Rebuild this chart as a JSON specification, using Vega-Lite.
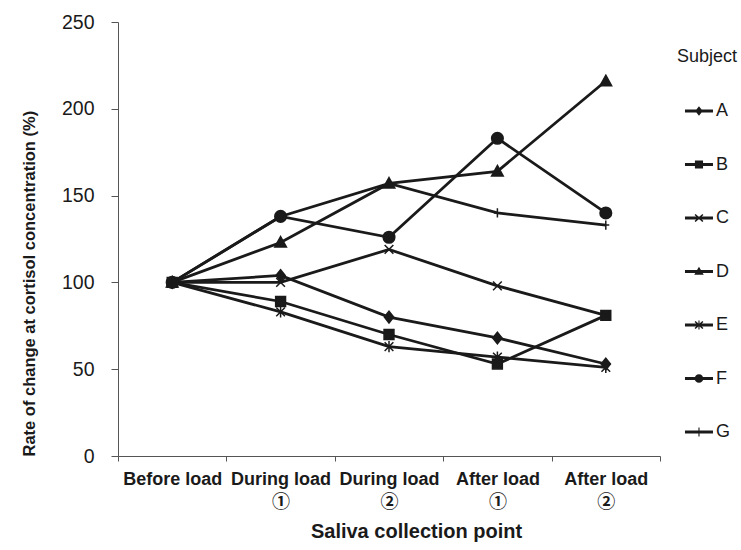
{
  "$schema": "https://vega.github.io/schema/vega-lite/v6.json",
  "width": 542,
  "height": 434,
  "autosize": "none",
  "padding": {"left": 118, "top": 22, "right": 81, "bottom": 94},
  "background": "white",
  "config": {
    "view": {"stroke": null},
    "font": "Liberation Sans",
    "axis": {"grid": false, "domainColor": "#555", "tickColor": "#555", "labelColor": "#1a1a1a", "titleColor": "#1a1a1a", "labelFont": "Liberation Sans", "titleFont": "Liberation Sans"},
    "legend": {"labelFont": "Liberation Sans", "titleFont": "Liberation Sans"}
  },
  "data": {
    "values": [
      {"subject": "A", "point": "Before load", "value": 100},
      {"subject": "A", "point": "During load|①", "value": 104},
      {"subject": "A", "point": "During load|②", "value": 80},
      {"subject": "A", "point": "After load|①", "value": 68},
      {"subject": "A", "point": "After load|②", "value": 53},
      {"subject": "B", "point": "Before load", "value": 100},
      {"subject": "B", "point": "During load|①", "value": 89},
      {"subject": "B", "point": "During load|②", "value": 70},
      {"subject": "B", "point": "After load|①", "value": 53},
      {"subject": "B", "point": "After load|②", "value": 81},
      {"subject": "C", "point": "Before load", "value": 100},
      {"subject": "C", "point": "During load|①", "value": 100},
      {"subject": "C", "point": "During load|②", "value": 119},
      {"subject": "C", "point": "After load|①", "value": 98},
      {"subject": "C", "point": "After load|②", "value": 81},
      {"subject": "D", "point": "Before load", "value": 100},
      {"subject": "D", "point": "During load|①", "value": 123},
      {"subject": "D", "point": "During load|②", "value": 157},
      {"subject": "D", "point": "After load|①", "value": 164},
      {"subject": "D", "point": "After load|②", "value": 216},
      {"subject": "E", "point": "Before load", "value": 100},
      {"subject": "E", "point": "During load|①", "value": 83},
      {"subject": "E", "point": "During load|②", "value": 63},
      {"subject": "E", "point": "After load|①", "value": 57},
      {"subject": "E", "point": "After load|②", "value": 51},
      {"subject": "F", "point": "Before load", "value": 100},
      {"subject": "F", "point": "During load|①", "value": 138},
      {"subject": "F", "point": "During load|②", "value": 126},
      {"subject": "F", "point": "After load|①", "value": 183},
      {"subject": "F", "point": "After load|②", "value": 140},
      {"subject": "G", "point": "Before load", "value": 100},
      {"subject": "G", "point": "During load|①", "value": 138},
      {"subject": "G", "point": "During load|②", "value": 157},
      {"subject": "G", "point": "After load|①", "value": 140},
      {"subject": "G", "point": "After load|②", "value": 133}
    ]
  },
  "encoding": {
    "x": {
      "field": "point", "type": "nominal",
      "sort": ["Before load", "During load|①", "During load|②", "After load|①", "After load|②"],
      "scale": {"type": "band", "paddingInner": 0, "paddingOuter": 0},
      "axis": {
        "title": "Saliva collection point", "titleFontSize": 20, "titleFontWeight": "bold", "titleX": 298, "titlePadding": 10,
        "labelFont": "Liberation Sans, Noto Sans CJK JP",
        "labelExpr": "split(datum.label, '|')", "labelAngle": 0, "labelFontSize": 18, "labelFontWeight": "bold", "labelPadding": 9, "labelLineHeight": 23,
        "tickBand": "extent", "tickSize": 5, "labelOverlap": false
      }
    },
    "y": {
      "field": "value", "type": "quantitative",
      "scale": {"domain": [0, 250], "nice": false},
      "axis": {
        "values": [0, 50, 100, 150, 200, 250], "title": "Rate of change at cortisol concentration (%)",
        "titleFontSize": 16.5, "titleFontWeight": "bold", "titleAnchor": "start", "titlePadding": 24,
        "labelFontSize": 19.5, "labelPadding": 17, "tickSize": 7
      }
    }
  },
  "layer": [
    {
      "mark": {"type": "line", "color": "#1a1a1a", "strokeWidth": 2.8},
      "encoding": {"detail": {"field": "subject"}}
    },
    {
      "mark": {"type": "point", "filled": true, "fill": "#1a1a1a", "stroke": "#1a1a1a", "strokeWidth": 1.5, "opacity": 1, "size": 135},
      "encoding": {
        "shape": {
          "field": "subject", "type": "nominal", "legend": null,
          "scale": {"domain": ["A", "B", "C", "D", "E", "F", "G"], "range": [
            "M0,-1L0.8,0L0,1L-0.8,0Z",
            "M-0.85,-0.85H0.85V0.85H-0.85Z",
            "M-0.75,-0.75L0.75,0.75M-0.75,0.75L0.75,-0.75",
            "M0,-1L1,0.8H-1Z",
            "M-0.75,-0.75L0.75,0.75M-0.75,0.75L0.75,-0.75M0,-0.95V0.95",
            "circle",
            "M-0.6,0H0.6M0,-0.8V0.8"
          ]}
        }
      }
    },
    {
      "mark": {"type": "point", "filled": true, "fill": "#1a1a1a", "opacity": 0},
      "encoding": {
        "shape": {
          "field": "subject", "type": "nominal",
          "scale": {"domain": ["A", "B", "C", "D", "E", "F", "G"], "range": [
            "M-0.43,-0.1H1.57V0.1H-0.43ZM0.57,-0.34L0.84,0L0.57,0.34L0.3,0Z",
            "M-0.43,-0.1H1.57V0.1H-0.43ZM0.28,-0.29H0.86V0.29H0.28Z",
            "M-0.43,-0.1H1.57V0.1H-0.43ZM0.327,-0.291L0.887,0.209L0.813,0.291L0.253,-0.209ZM0.253,0.209L0.813,-0.291L0.887,-0.209L0.327,0.291Z",
            "M-0.43,-0.1H1.57V0.1H-0.43ZM0.57,-0.34L0.91,0.24H0.23Z",
            "M-0.43,-0.1H1.57V0.1H-0.43ZM0.327,-0.291L0.887,0.209L0.813,0.291L0.253,-0.209ZM0.253,0.209L0.813,-0.291L0.887,-0.209L0.327,0.291ZM0.53,-0.32H0.61V0.32H0.53Z",
            "M-0.43,-0.1H1.57V0.1H-0.43ZM0.88,0A0.31,0.31 0 1 1 0.26,0A0.31,0.31 0 1 1 0.88,0Z",
            "M-0.43,-0.1H1.57V0.1H-0.43ZM0.53,-0.32H0.61V0.32H0.53Z"
          ]},
          "legend": {
            "title": "Subject", "orient": "none", "legendX": 559, "legendY": 26,
            "titleFontSize": 18, "titleFontWeight": "normal", "titleColor": "#1a1a1a", "titlePadding": 31,
            "labelFontSize": 18, "labelColor": "#1a1a1a", "labelOffset": 11,
            "symbolSize": 784, "symbolStrokeWidth": 0, "symbolFillColor": "#1a1a1a", "symbolOpacity": 1,
            "rowPadding": 30.5, "padding": 0,
            "encode": {"symbols": {"fill": {"value": "#1a1a1a"}, "fillOpacity": {"value": 1}, "opacity": {"value": 1}}}
          }
        }
      }
    }
  ],
  "resolve": {"scale": {"shape": "independent"}}
}
